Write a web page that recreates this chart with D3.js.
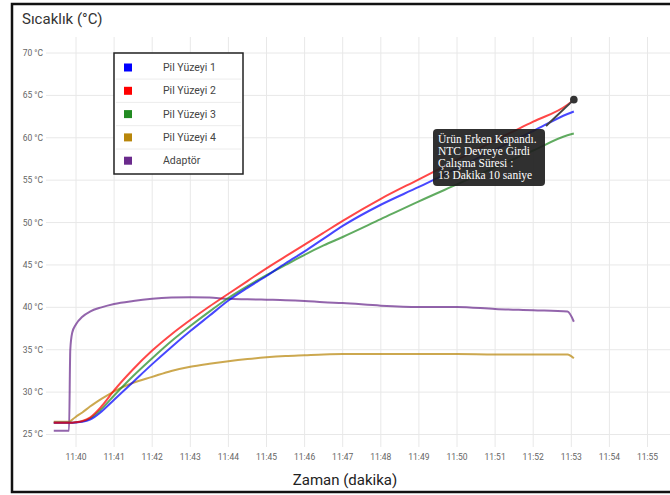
<!DOCTYPE html>
<html><head><meta charset="utf-8">
<script src="https://cdn.jsdelivr.net/npm/d3@7"></script>
<style>
html,body{margin:0;padding:0;background:#fff;}
svg{display:block;font-family:Roboto, "Liberation Sans", Arial, sans-serif;}
</style>
</head><body>
<svg id="chart" width="670" height="495"></svg>
<script>
// ---- data ----
const times = ["11:39:25","11:39:49","11:39:51","11:39:54","11:40:00","11:40:10","11:40:22","11:40:40","11:41:00","11:41:30","11:42:00","11:42:30","11:43:00","11:43:30","11:44:00","11:44:30","11:45:00","11:45:30","11:46:00","11:46:30","11:47:00","11:48:00","11:49:00","11:50:00","11:51:00","11:52:00","11:52:54","11:53:04"];
const pil1 = [26.4,26.4,26.4,26.4,26.42,26.5,26.75,27.7,29.1,31.2,33.3,35.3,37.2,39.0,40.8,42.3,43.7,45.2,46.6,48.1,49.6,52.1,54.2,56.4,58.6,60.8,62.8,63.1];
const pil2 = [26.4,26.4,26.4,26.4,26.45,26.6,27.0,28.3,30.2,32.7,34.9,36.8,38.5,40.1,41.6,43.1,44.6,46.0,47.4,48.8,50.2,52.8,55.1,57.4,59.7,61.9,63.9,64.5];
const pil3 = [26.4,26.4,26.4,26.4,26.45,26.55,26.9,28.0,29.6,31.9,34.0,36.0,37.8,39.5,41.1,42.5,43.8,45.0,46.2,47.3,48.3,50.4,52.5,54.5,56.5,58.5,60.3,60.5];
const pil4 = [26.5,26.5,26.55,26.75,27.1,27.6,28.3,29.2,30.1,31.1,31.8,32.5,33.0,33.35,33.65,33.9,34.1,34.25,34.35,34.45,34.5,34.5,34.5,34.5,34.45,34.45,34.45,34.0];
const adaptor = [25.45,25.45,35.0,37.0,38.0,38.9,39.5,40.0,40.4,40.75,41.0,41.15,41.2,41.15,41.0,40.95,40.9,40.85,40.75,40.6,40.5,40.2,40.05,40.05,39.8,39.65,39.5,38.3];
const seriesNames = ["Pil Yüzeyi 1","Pil Yüzeyi 2","Pil Yüzeyi 3","Pil Yüzeyi 4","Adaptör"];
const seriesColors = ["#0000ff","#ff0000","#228b22","#b8860b","#6a2a8c"];
const yTicks = [25,30,35,40,45,50,55,60,65,70];
const xTickLabels = ["11:40","11:41","11:42","11:43","11:44","11:45","11:46","11:47","11:48","11:49","11:50","11:51","11:52","11:53","11:54","11:55"];
const annotationLines = ["Ürün Erken Kapandı.","NTC Devreye Girdi","Çalışma Süresi :","13 Dakika 10 saniye"];
const titleText = "Sıcaklık (°C)";
const xLabelText = "Zaman (dakika)";

// ---- setup ----
const parse = d3.timeParse("%H:%M:%S");
const parseHM = d3.timeParse("%H:%M");
const svg = d3.select("#chart");
const plot = {left:46, right:672, top:37, bottom:447};

const x = d3.scaleTime()
  .domain([parseHM("11:40"), parseHM("11:55")])
  .range([76, 76 + 15*38.1]);
const y = d3.scaleLinear().domain([25,70]).range([434.5,53]);

// frame
svg.append("rect").attr("x",12).attr("y",4).attr("width",700).attr("height",488)
  .attr("fill","#fff").attr("stroke","#111").attr("stroke-width",2.5);

// grid
const g = svg.append("g");
g.selectAll(".hg").data(yTicks).join("line")
  .attr("x1",plot.left).attr("x2",plot.right)
  .attr("y1",d=>y(d)).attr("y2",d=>y(d))
  .attr("stroke","#e8e8e8").attr("stroke-width",1);
const xTickDates = xTickLabels.map(parseHM);
g.selectAll(".vg").data(xTickDates).join("line")
  .attr("x1",d=>x(d)).attr("x2",d=>x(d))
  .attr("y1",plot.top).attr("y2",plot.bottom)
  .attr("stroke","#e8e8e8").attr("stroke-width",1);

// tick labels
svg.selectAll(".yl").data(yTicks).join("text")
  .attr("x",43).attr("y",d=>y(d)).attr("dy","0.35em")
  .attr("text-anchor","end").attr("font-size",8.5).attr("fill","#666")
  .text(d=>d+" °C");
svg.selectAll(".xl").data(xTickLabels).join("text")
  .attr("x",d=>x(parseHM(d))).attr("y",457).attr("dy","0.35em")
  .attr("text-anchor","middle").attr("font-size",8.5).attr("fill","#666")
  .text(d=>d);

// titles
svg.append("text").attr("x",22).attr("y",24).attr("font-size",15).attr("fill","#333").text(titleText);
svg.append("text").attr("x",345).attr("y",485).attr("text-anchor","middle").attr("font-size",15).attr("fill","#222").text(xLabelText);

// lines
const allSeries = [pil1,pil2,pil3,pil4,adaptor];
const drawOrder = [4,3,2,0,1];
const line = d3.line().x(d=>x(d[0])).y(d=>y(d[1])).curve(d3.curveMonotoneX);
const tDates = times.map(parse);
drawOrder.forEach(i=>{
  const pts = tDates.map((t,k)=>[t, allSeries[i][k]]);
  svg.append("path").datum(pts).attr("d",line)
    .attr("fill","none").attr("stroke",seriesColors[i])
    .attr("stroke-width",2).attr("stroke-opacity",0.72)
    .attr("stroke-linejoin","round");
});

// legend
const lg = svg.append("g");
lg.append("rect").attr("x",114).attr("y",53).attr("width",129).attr("height",121)
  .attr("fill","#fff").attr("stroke","#222").attr("stroke-width",1.5);
seriesNames.forEach((n,i)=>{
  const cy = 67.5 + i*23.3;
  if(i>0) lg.append("line").attr("x1",116).attr("x2",241)
    .attr("y1",cy-11.7).attr("y2",cy-11.7).attr("stroke","#ececec");
  lg.append("rect").attr("x",124).attr("y",cy-4).attr("width",8).attr("height",8).attr("fill",seriesColors[i]);
  lg.append("text").attr("x",163).attr("y",cy).attr("dy","0.35em")
    .attr("font-size",10.5).attr("fill","#444").text(n);
});

// annotation
const endIdx = times.length-1;
const dotX = x(tDates[endIdx]), dotY = y(pil2[endIdx]);
svg.append("line").attr("x1",dotX).attr("y1",dotY).attr("x2",546).attr("y2",126)
  .attr("stroke","#444").attr("stroke-width",2);
svg.append("circle").attr("cx",dotX).attr("cy",dotY).attr("r",3.8).attr("fill","#333");
svg.append("rect").attr("x",433).attr("y",129).attr("width",112).attr("height",57).attr("rx",4)
  .attr("fill","#1e1e1e").attr("fill-opacity",0.92);
annotationLines.forEach((t,i)=>{
  svg.append("text").attr("x",438).attr("y",142.5+i*12)
    .attr("font-family","'Liberation Serif','DejaVu Serif',serif")
    .attr("font-size",11.5).attr("fill","#fff").text(t);
});
</script>
</body></html>
